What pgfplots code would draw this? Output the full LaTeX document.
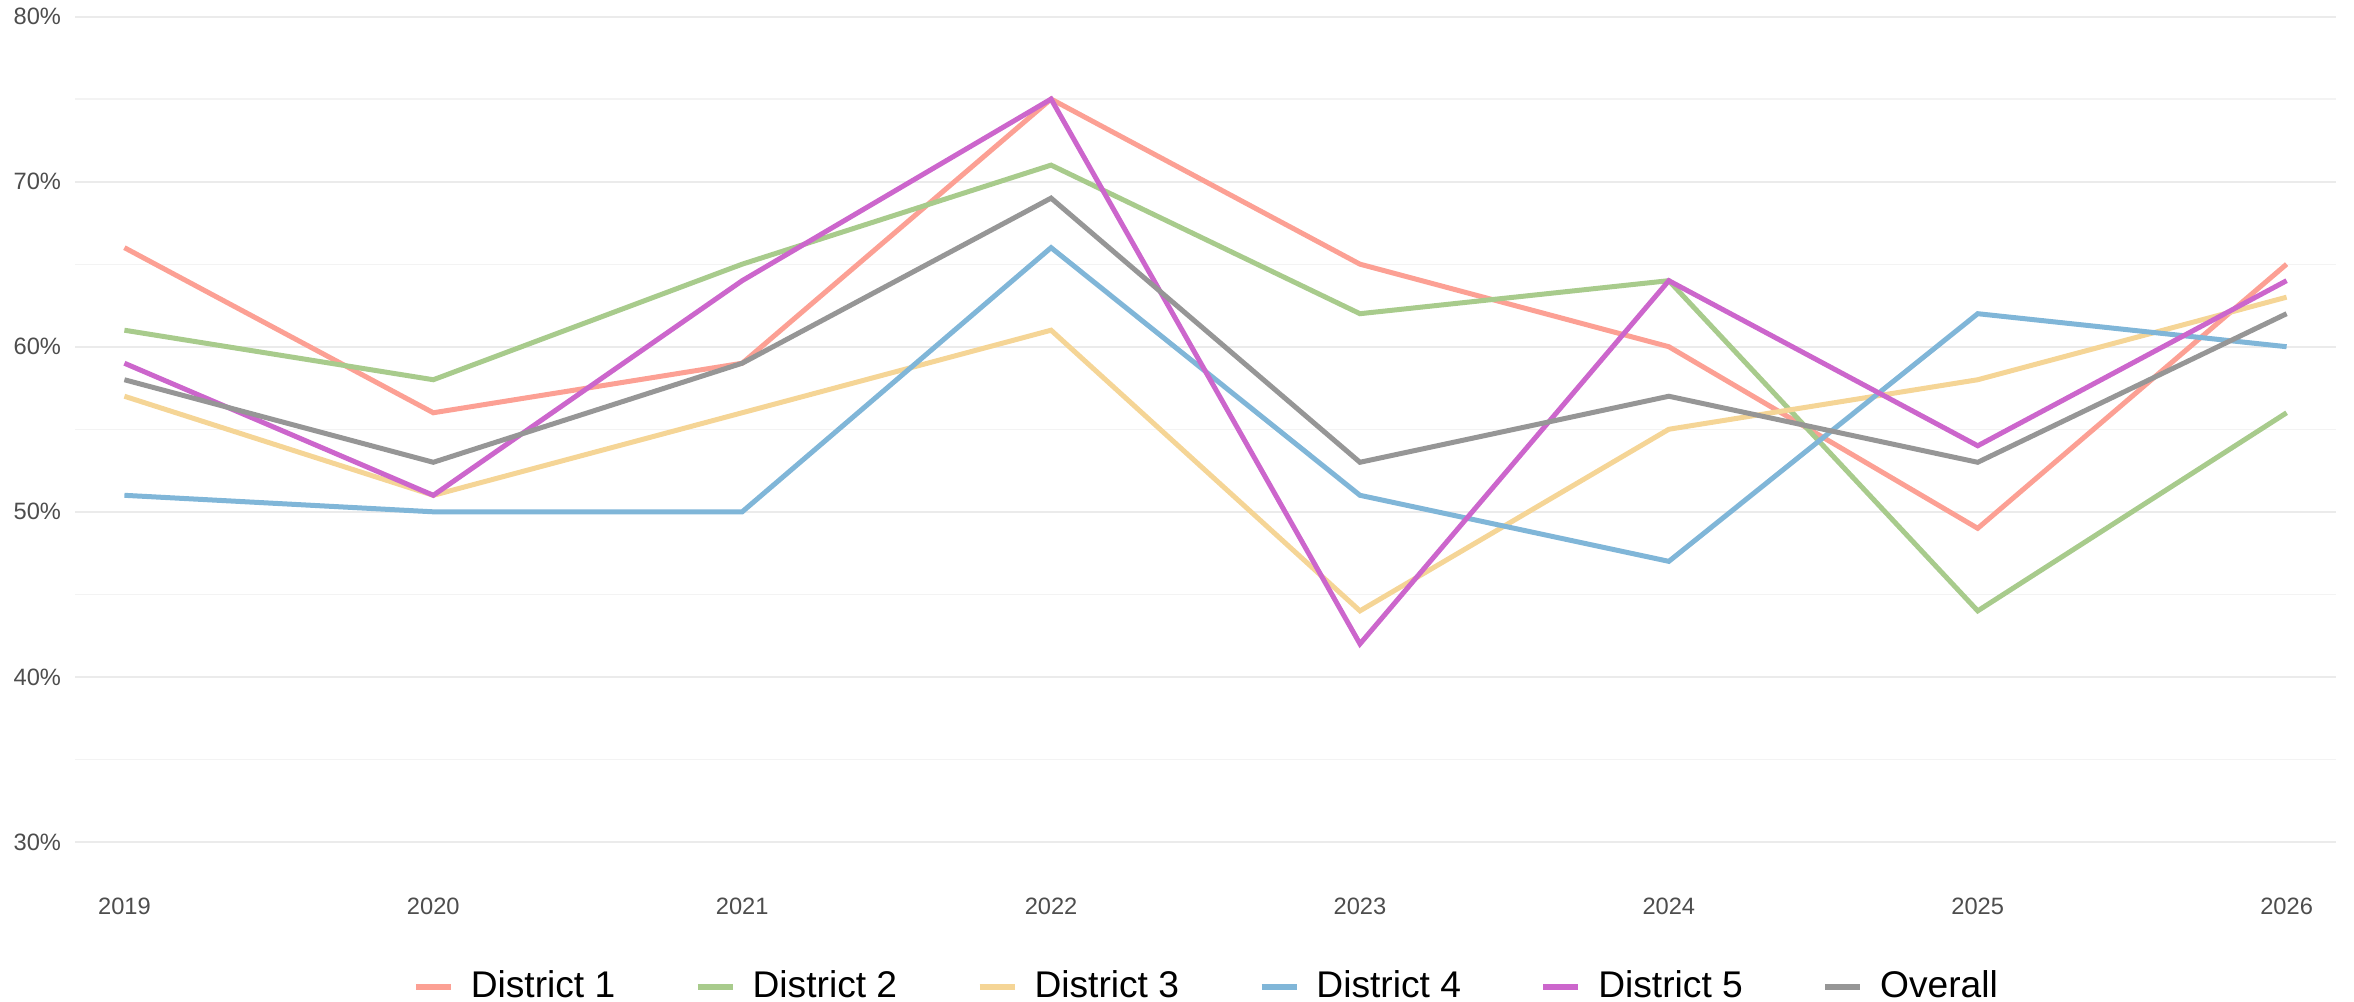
\documentclass[border=0pt]{standalone}
\usepackage{pgfplots}
\pgfplotsset{compat=1.18}
\usepackage{fontspec}
\setmainfont{Liberation Sans}
\definecolor{c1}{RGB}{252,160,148}
\definecolor{c2}{RGB}{168,203,140}
\definecolor{c3}{RGB}{245,213,150}
\definecolor{c4}{RGB}{128,182,216}
\definecolor{c5}{RGB}{204,102,204}
\definecolor{c6}{RGB}{150,150,150}
\definecolor{gridc}{RGB}{235,235,235}
\definecolor{gridm}{RGB}{243,243,243}
\definecolor{tickc}{RGB}{77,77,77}
\begin{document}
\begin{tikzpicture}
\useasboundingbox (0pt,0pt) rectangle (706.2pt,300.3pt);
\begin{axis}[
 at={(22.5pt,47.7pt)}, anchor=south west,
 width=678.3pt, height=247.65pt, scale only axis,
 xmin=2018.84, xmax=2026.16, ymin=30, ymax=80,
 xtick={2019,2020,2021,2022,2023,2024,2025,2026},
 ytick={30,40,50,60,70,80},
 minor ytick={35,45,55,65,75},
 ymajorgrids, yminorgrids,
 major grid style={draw=gridc, line width=0.6pt},
 minor grid style={draw=gridm, line width=0.4pt},
 axis line style={draw=none},
 major tick length=0pt, minor tick length=0pt,
 tick style={draw=none},
 /pgf/number format/assume math mode=true,
 xticklabel={\pgfmathprintnumber[1000 sep={}]{\tick}},
 yticklabel={\pgfmathprintnumber{\tick}\%},
 xticklabel style={font=\fontsize{7.1pt}{8.5pt}\selectfont, text=tickc, anchor=north, inner sep=0pt, yshift=-16.5pt},
 yticklabel style={font=\fontsize{7.1pt}{8.5pt}\selectfont, text=tickc, anchor=east, inner sep=0pt, xshift=-4pt},
 legend columns=6,
 legend style={at={(0.5,-0.1756)}, anchor=center, draw=none, fill=none,
   font=\fontsize{11.15pt}{13pt}\selectfont, nodes={inner sep=0pt},
   /tikz/every odd column/.append style={column sep=5.1pt},
   /tikz/every even column/.append style={column sep=23.9pt}},
 legend image code/.code={\draw[#1, line width=1.7pt] (0pt,0pt) -- (10.5pt,0pt);},
 every axis plot/.append style={line width=1.5pt},
]
\addplot[c1] coordinates {(2019,66)(2020,56)(2021,59)(2022,75)(2023,65)(2024,60)(2025,49)(2026,65)};
\addlegendentry{District 1}
\addplot[c2] coordinates {(2019,61)(2020,58)(2021,65)(2022,71)(2023,62)(2024,64)(2025,44)(2026,56)};
\addlegendentry{District 2}
\addplot[c3] coordinates {(2019,57)(2020,51)(2021,56)(2022,61)(2023,44)(2024,55)(2025,58)(2026,63)};
\addlegendentry{District 3}
\addplot[c4] coordinates {(2019,51)(2020,50)(2021,50)(2022,66)(2023,51)(2024,47)(2025,62)(2026,60)};
\addlegendentry{District 4}
\addplot[c5] coordinates {(2019,59)(2020,51)(2021,64)(2022,75)(2023,42)(2024,64)(2025,54)(2026,64)};
\addlegendentry{District 5}
\addplot[c6] coordinates {(2019,58)(2020,53)(2021,59)(2022,69)(2023,53)(2024,57)(2025,53)(2026,62)};
\addlegendentry{Overall}
\end{axis}
\end{tikzpicture}
\end{document}
